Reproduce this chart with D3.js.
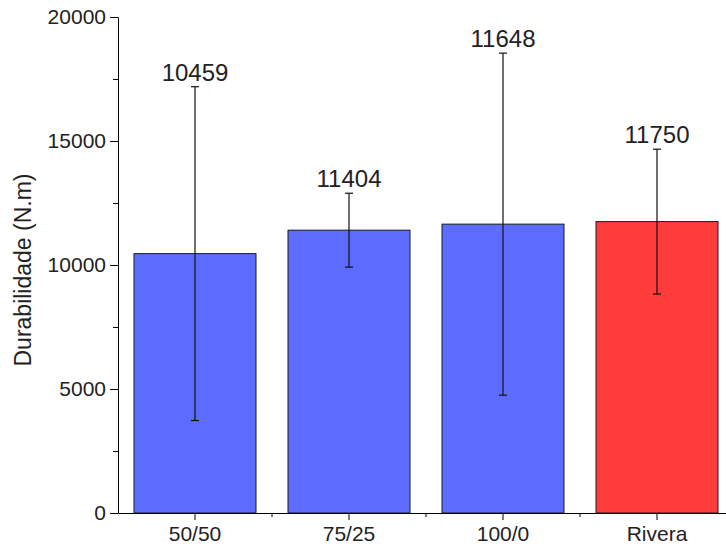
<!DOCTYPE html>
<html>
<head>
<meta charset="utf-8">
<script src="https://cdn.jsdelivr.net/npm/d3@7"></script>
<style>
  html, body { margin: 0; padding: 0; background: #fff; }
  svg { display: block; }
  text { font-family: "Liberation Sans", Arial, sans-serif; fill: #222; }
</style>
</head>
<body>
<svg id="chart" width="726" height="551"></svg>
<script>
const categories = ["50/50", "75/25", "100/0", "Rivera"];
const means = [10459, 11404, 11648, 11750];
const errors = [6730, 1490, 6895, 2920];
const valueLabels = ["10459", "11404", "11648", "11750"];
const yTicks = [0, 5000, 10000, 15000, 20000];
const yMinorTicks = [2500, 7500, 12500, 17500];
const colors = ["#5b6cff", "#5b6cff", "#5b6cff", "#ff3c3c"];

const svg = d3.select("#chart");
const x0 = 118, x1 = 734, yTop = 17, yBot = 513;

const xOuter = d3.scaleBand().domain(categories).range([x0, x1]);
const y = d3.scaleLinear().domain([0, 20000]).range([yBot, yTop]);

const data = categories.map((c, i) => ({c, m: means[i], e: errors[i], col: colors[i], lab: valueLabels[i]}));

// bars
svg.append("g").selectAll("rect").data(data).join("rect")
  .attr("x", d => xOuter(d.c) + (xOuter.bandwidth() - 122) / 2)
  .attr("width", 122)
  .attr("y", d => y(d.m))
  .attr("height", d => y(0) - y(d.m))
  .attr("fill", d => d.col)
  .attr("stroke", "#1a1a1a")
  .attr("stroke-width", 1);

// error bars
const eb = svg.append("g").attr("stroke", "#111").attr("stroke-width", 1.2);
data.forEach(d => {
  const cx = xOuter(d.c) + xOuter.bandwidth() / 2;
  eb.append("line").attr("x1", cx).attr("x2", cx).attr("y1", y(d.m + d.e)).attr("y2", y(d.m - d.e));
  eb.append("line").attr("x1", cx - 4).attr("x2", cx + 4).attr("y1", y(d.m + d.e)).attr("y2", y(d.m + d.e));
  eb.append("line").attr("x1", cx - 4).attr("x2", cx + 4).attr("y1", y(d.m - d.e)).attr("y2", y(d.m - d.e));
});

// value labels
svg.append("g").selectAll("text").data(data).join("text")
  .attr("x", d => xOuter(d.c) + xOuter.bandwidth() / 2)
  .attr("y", d => y(d.m + d.e) - 6)
  .attr("text-anchor", "middle")
  .style("font-size", "24px")
  .text(d => d.lab);

// y axis
const yAxis = svg.append("g").attr("transform", `translate(${x0},0)`)
  .call(d3.axisLeft(y).tickValues(yTicks).tickSize(8).tickSizeOuter(0).tickPadding(4).tickFormat(d3.format("d")));
yAxis.selectAll("text").style("font-size", "21px").style("fill", "#222");
svg.append("g").attr("transform", `translate(${x0},0)`)
  .call(d3.axisLeft(y).tickValues(yMinorTicks).tickSize(5).tickFormat(""))
  .select(".domain").remove();

// x axis
const xAxis = svg.append("g").attr("transform", `translate(0,${yBot})`)
  .call(d3.axisBottom(xOuter).tickSize(7).tickSizeOuter(0).tickPadding(6));
xAxis.selectAll("text").style("font-size", "21px").style("fill", "#222");
// minor x ticks between categories
const minorX = categories.slice(1).map(c => xOuter(c));
svg.append("g").selectAll("line").data(minorX).join("line")
  .attr("x1", d => d).attr("x2", d => d)
  .attr("y1", yBot).attr("y2", yBot + 4)
  .attr("stroke", "#000");

svg.selectAll(".domain, .tick line").attr("stroke", "#000");

// y axis title
svg.append("text")
  .attr("transform", `translate(31,270) rotate(-90)`)
  .attr("text-anchor", "middle")
  .style("font-size", "23px")
  .text("Durabilidade (N.m)");
</script>
</body>
</html>
